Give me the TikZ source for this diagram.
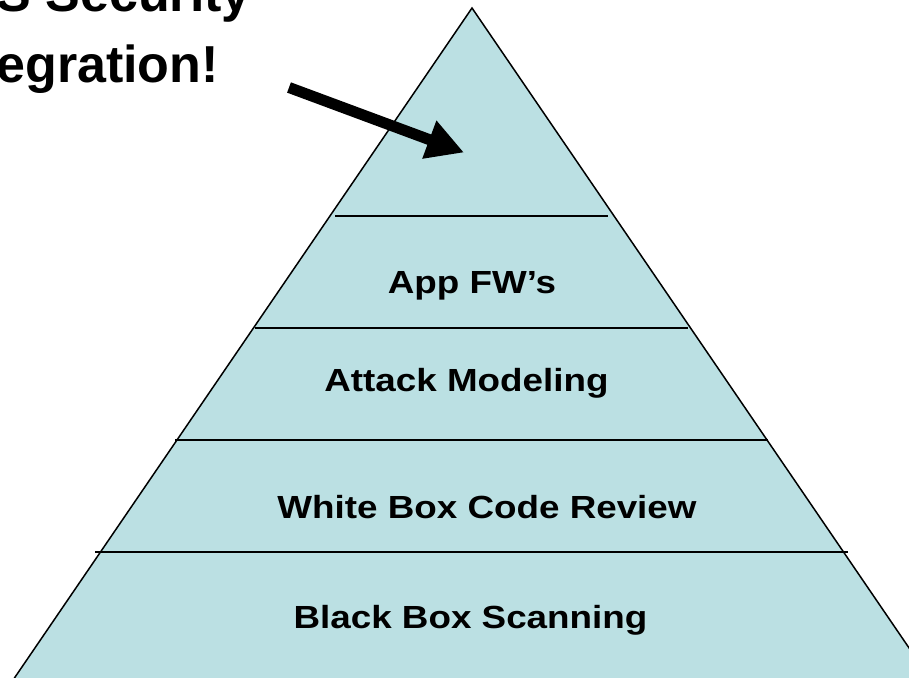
\documentclass[tikz,border=0pt]{standalone}
\usepackage{fontspec}
\setmainfont{Liberation Sans}
\newfontfamily\layerfont[FakeStretch=1.15]{Liberation Sans}
\usetikzlibrary{arrows.meta}
\definecolor{pyrfill}{RGB}{187,224,227}
\tikzset{
  layer/.style={anchor=base, inner sep=0pt, font=\layerfont\bfseries\fontsize{32}{38}\selectfont},
  headline/.style={anchor=base east, inner sep=0pt, font=\bfseries\fontsize{52}{60}\selectfont},
  divider/.style={line width=1.8pt, black},
  pointer/.style={line width=11pt, -{Triangle[length=37pt 0 0, width=38pt 0 0]}}
}
\begin{document}
\begin{tikzpicture}[x=1pt, y=-1pt]
  \useasboundingbox (0,0) rectangle (909,677);
  \clip (0,0) rectangle (909,677);
  % pyramid body (sides run off the lower edge)
  \coordinate (apex) at (472,8);
  \coordinate (bl) at (-0.6,700);
  \coordinate (br) at (944.6,700);
  \filldraw[fill=pyrfill, draw=black, line width=1.5pt, line join=miter] (bl) -- (apex) -- (br) -- cycle;
  % layer dividers
  \coordinate (d1l) at (335,216); \coordinate (d1r) at (608,216);
  \coordinate (d2l) at (255,328); \coordinate (d2r) at (688,328);
  \coordinate (d3l) at (175,440); \coordinate (d3r) at (768,440);
  \coordinate (d4l) at (95,552);  \coordinate (d4r) at (848,552);
  \draw[divider] (d1l) -- (d1r);
  \draw[divider] (d2l) -- (d2r);
  \draw[divider] (d3l) -- (d3r);
  \draw[divider] (d4l) -- (d4r);
  % layer labels
  \node[layer] (fw)    at (472,293) {App FW’s};
  \node[layer] (atk)   at (466.5,391) {Attack Modeling};
  \node[layer] (white) at (487,518) {White Box Code Review};
  \node[layer] (black) at (470.5,628) {Black Box Scanning};
  % heading
  \node[headline] (h1) at (251,12) {S Security};
  \node[headline] (h2) at (219,82) {egration!};
  % arrow into the top layer
  \coordinate (tail) at (289,87.5);
  \coordinate (tip) at (464,152.5);
  \draw[pointer] (tail) -- (tip);
\end{tikzpicture}
\end{document}
